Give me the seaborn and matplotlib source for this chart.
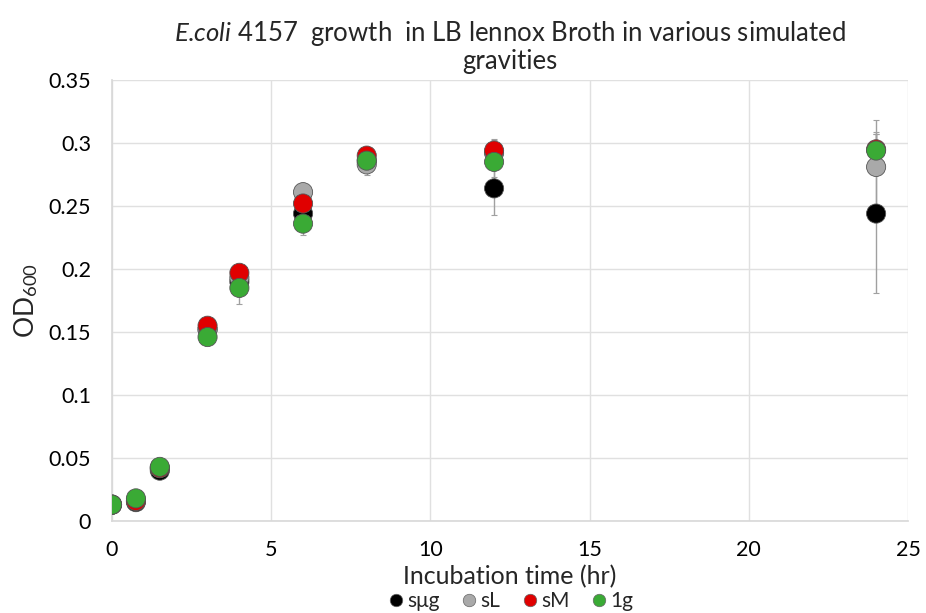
import numpy as np
import pandas as pd
import matplotlib
matplotlib.use("Agg")
import matplotlib.pyplot as plt
import seaborn as sns
from matplotlib.lines import Line2D

time_hr = [0, 0.75, 1.5, 3, 4, 6, 8, 12, 24]
series_names = ["sμg", "sL", "sM", "1g"]
od_sug = [0.013, 0.015, 0.040, 0.152, 0.190, 0.244, 0.286, 0.264, 0.244]
od_sL = [0.013, 0.016, 0.042, 0.152, 0.193, 0.261, 0.283, 0.292, 0.281]
od_sM = [0.013, 0.016, 0.042, 0.155, 0.197, 0.252, 0.290, 0.294, 0.295]
od_1g = [0.013, 0.018, 0.043, 0.146, 0.185, 0.236, 0.286, 0.285, 0.294]
err_sug = [0.001, 0.002, 0.002, 0.003, 0.005, 0.006, 0.006, 0.021, 0.063]
err_sL = [0.001, 0.002, 0.002, 0.003, 0.005, 0.005, 0.008, 0.010, 0.037]
err_sM = [0.001, 0.002, 0.002, 0.004, 0.005, 0.006, 0.006, 0.009, 0.012]
err_1g = [0.001, 0.002, 0.002, 0.004, 0.013, 0.009, 0.007, 0.012, 0.015]
colors = ["#000000", "#a9a9a9", "#e00000", "#3aaa35"]

values = [od_sug, od_sL, od_sM, od_1g]
errors = [err_sug, err_sL, err_sM, err_1g]
rows = []
for name, v, e in zip(series_names, values, errors):
    for t, y, ee in zip(time_hr, v, e):
        rows.append({"time": t, "od": y, "err": ee, "series": name})
df = pd.DataFrame(rows)

sns.set_theme(style="white")
plt.rcParams["font.family"] = ["Lato", "DejaVu Sans"]
plt.rcParams["mathtext.fontset"] = "custom"
plt.rcParams["mathtext.rm"] = "Lato"
plt.rcParams["mathtext.it"] = "Lato:italic"

fig = plt.figure(figsize=(9.26, 6.13), dpi=100)
ax = fig.add_axes([0.121, 0.150, 0.8595, 0.7195])

for name, col in zip(series_names, colors):
    sub = df[df["series"] == name]
    ax.errorbar(sub["time"], sub["od"], yerr=sub["err"], fmt="none",
                ecolor="#a0a0a0", elinewidth=1.0, capsize=2, capthick=0.8, zorder=2)

sns.scatterplot(data=df, x="time", y="od", hue="series", hue_order=series_names,
                palette=colors, s=190, edgecolor="#555555", linewidth=0.6,
                legend=False, ax=ax, zorder=3)

ax.set_xlim(0, 25)
ax.set_ylim(0, 0.35)
ax.set_xticks([0, 5, 10, 15, 20, 25])
ax.set_yticks([0, 0.05, 0.1, 0.15, 0.2, 0.25, 0.3, 0.35])
ax.set_yticklabels(["0", "0.05", "0.1", "0.15", "0.2", "0.25", "0.3", "0.35"])
ax.grid(True, color="#e0e0e0", linewidth=1.0)
ax.set_axisbelow(True)
for s in ["top", "right"]:
    ax.spines[s].set_visible(False)
ax.spines["left"].set_color("#d9d9d9")
ax.spines["bottom"].set_color("#d9d9d9")
ax.tick_params(axis="both", labelsize=15.5, length=0, colors="#000000")
ax.tick_params(axis="y", pad=15)
ax.tick_params(axis="x", pad=14)

ax.set_xlabel("Incubation time (hr)", fontsize=18, labelpad=3)
ax.set_ylabel("OD$_{600}$", fontsize=19, labelpad=6)
ax.set_title("$\\it{E}$.$\\it{coli}$ 4157  growth  in LB lennox Broth in various simulated\ngravities",
             fontsize=18.5, pad=8, linespacing=1.05)

handles = [Line2D([0], [0], marker="o", linestyle="none", markersize=9,
                  markerfacecolor=c, markeredgecolor="#666666", markeredgewidth=0.5)
           for c in colors]
fig.legend(handles, series_names, loc="lower center", bbox_to_anchor=(0.55, -0.028),
           ncol=4, frameon=False, fontsize=15, handletextpad=0.05, columnspacing=0.9,
           handlelength=1.0)

fig.savefig("out.png", dpi=100)
